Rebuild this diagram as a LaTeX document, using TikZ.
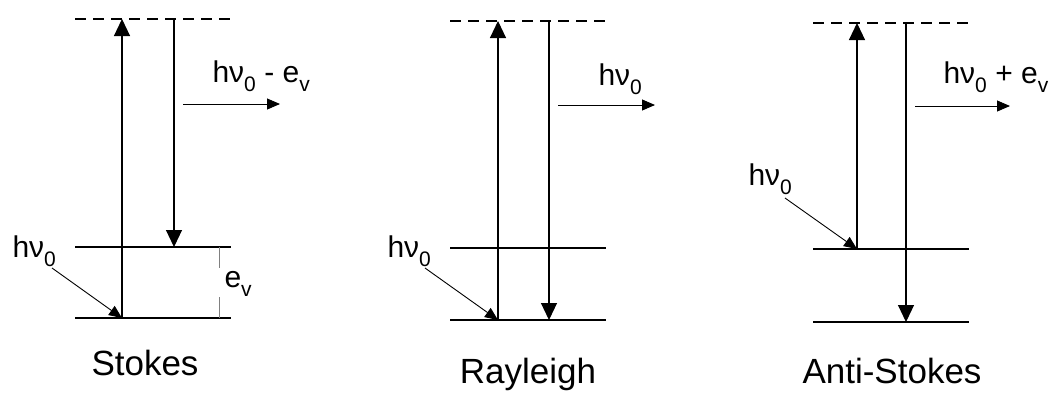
\documentclass[tikz,border=0pt]{standalone}
\usepackage{fontspec}
\setmainfont{Liberation Sans}
\usetikzlibrary{arrows.meta}
\newcommand{\lowidx}[1]{\raisebox{-0.3em}{\fontsize{21}{21}\selectfont #1}}

\begin{document}
\begin{tikzpicture}[x=1pt, y=-1pt, line width=1.1pt,
  virtual/.style={dash pattern=on 11pt off 7pt},
  trans/.style={-{Triangle[length=17pt,width=16pt]}},
  photon/.style={line width=0.9pt, -{Triangle[length=13pt,width=11pt]}},
  lbl/.style={anchor=base west, inner sep=0pt, font=\fontsize{30}{36}\selectfont},
  title/.style={anchor=base, inner sep=0pt, font=\fontsize{35}{42}\selectfont}]
\useasboundingbox (0,0) rectangle (1052,392);

% Stokes
\coordinate (s-vl) at (75,19);  \coordinate (s-vr) at (233,19);
\coordinate (s-ul) at (75,247); \coordinate (s-ur) at (231,247);
\coordinate (s-gl) at (75,318); \coordinate (s-gr) at (231,318);
\draw[virtual] (s-vl) -- (s-vr);
\draw (s-ul) -- (s-ur);
\draw (s-gl) -- (s-gr);
\coordinate (s-a) at (122,318);
\coordinate (s-b) at (174,19);
\draw[trans] (s-a) -- (s-a |- s-vl);
\draw[trans] (s-b) -- (s-b |- s-ul);
\node[lbl] (s-in) at (12,257) {hν\lowidx{0}};
\coordinate (s-p) at (52,268);
\draw[photon] (s-p) -- (s-a);
\coordinate (s-o1) at (183,104); \coordinate (s-o2) at (280,104);
\draw[photon] (s-o1) -- (s-o2);
\node[lbl] (s-out) at (212,82) {hν\lowidx{0} - e\lowidx{v}};
\coordinate (s-e1) at (219,247); \coordinate (s-e2) at (219,268);
\coordinate (s-e3) at (219,297); \coordinate (s-e4) at (219,318);
\draw[gray, line width=0.8pt] (s-e1) -- (s-e2) (s-e3) -- (s-e4);
\node[lbl] (s-ev) at (224,287) {e\lowidx{v}};
\node[title] (s-title) at (145,375) {Stokes};

% Rayleigh
\coordinate (r-vl) at (450,21);  \coordinate (r-vr) at (607,21);
\coordinate (r-ul) at (450,248); \coordinate (r-ur) at (606,248);
\coordinate (r-gl) at (450,320); \coordinate (r-gr) at (606,320);
\draw[virtual] (r-vl) -- (r-vr);
\draw (r-ul) -- (r-ur);
\draw (r-gl) -- (r-gr);
\coordinate (r-a) at (498,320);
\coordinate (r-b) at (549,21);
\draw[trans] (r-a) -- (r-a |- r-vl);
\draw[trans] (r-b) -- (r-b |- r-gl);
\node[lbl] (r-in) at (387,257) {hν\lowidx{0}};
\coordinate (r-p) at (425,268);
\draw[photon] (r-p) -- (r-a);
\coordinate (r-o1) at (558,105); \coordinate (r-o2) at (655,105);
\draw[photon] (r-o1) -- (r-o2);
\node[lbl] (r-out) at (598,85) {hν\lowidx{0}};
\node[title] (r-title) at (528,383) {Rayleigh};

% Anti-Stokes
\coordinate (a-vl) at (813,23);  \coordinate (a-vr) at (972,23);
\coordinate (a-ul) at (813,249); \coordinate (a-ur) at (969,249);
\coordinate (a-gl) at (813,322); \coordinate (a-gr) at (969,322);
\draw[virtual] (a-vl) -- (a-vr);
\draw (a-ul) -- (a-ur);
\draw (a-gl) -- (a-gr);
\coordinate (a-a) at (857,249);
\coordinate (a-b) at (906,23);
\draw[trans] (a-a) -- (a-a |- a-vl);
\draw[trans] (a-b) -- (a-b |- a-gl);
\node[lbl] (a-in) at (748,185) {hν\lowidx{0}};
\coordinate (a-p) at (785,198);
\draw[photon] (a-p) -- (a-a);
\coordinate (a-o1) at (915,106); \coordinate (a-o2) at (1010,106);
\draw[photon] (a-o1) -- (a-o2);
\node[lbl] (a-out) at (943,83) {hν\lowidx{0} + e\lowidx{v}};
\node[title] (a-title) at (892,383) {Anti-Stokes};
\end{tikzpicture}
\end{document}
